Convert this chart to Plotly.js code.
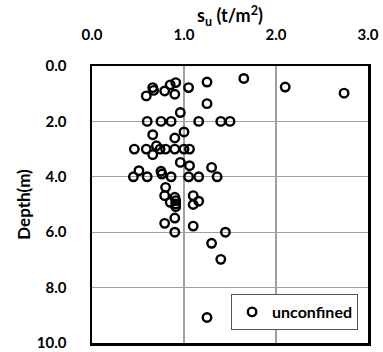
<!DOCTYPE html>
<html>
<head>
<meta charset="utf-8">
<script src="https://cdn.plot.ly/plotly-3.0.1.min.js"></script>
<style>html,body{margin:0;padding:0;background:#fff;}#chart{width:383px;height:352px;}</style>
</head>
<body>
<div id="chart"></div>
<script>
// Undrained shear strength s_u (t/m^2) vs depth (m), unconfined compression tests
const su = [0.66,0.67,0.59,0.79,0.85,0.91,0.90,1.05,1.25,1.65,2.10,2.74,1.25,0.96,
            0.60,0.75,0.86,1.16,1.40,1.50,0.66,1.00,0.90,0.46,0.59,0.70,0.66,0.74,
            0.80,0.90,1.00,1.06,0.96,1.06,1.30,1.36,1.16,1.05,0.86,0.75,0.76,0.60,
            0.51,0.45,0.80,0.79,0.90,0.91,1.10,1.16,0.85,0.91,0.91,1.10,0.90,0.79,
            1.10,0.90,1.45,1.30,1.40,1.25];
const depth = [0.78,0.88,1.08,0.90,0.68,0.60,1.02,0.78,0.58,0.45,0.76,0.98,1.36,1.68,
               2.0,2.0,2.0,2.0,2.0,2.0,2.48,2.38,2.60,3.0,3.0,2.88,3.2,3.0,
               3.0,3.0,3.0,3.0,3.48,3.6,3.66,4.0,4.0,4.0,4.0,3.8,3.9,4.0,
               3.78,4.0,4.38,4.68,4.74,4.86,4.68,4.88,4.92,4.98,5.08,5.0,5.49,5.68,
               5.78,6.0,6.0,6.4,6.98,9.08];
const seriesName = 'unconfined';
const xTicks = [0, 1, 2, 3];
const yTicks = [0, 2, 4, 6, 8, 10];

const FONT = 'Lato, "Open Sans", "Liberation Sans", sans-serif';

const trace = {
  x: su, y: depth, type: 'scatter', mode: 'markers', name: seriesName,
  marker: {symbol: 'circle-open', size: 8.5, color: '#000', line: {width: 2.4, color: '#000'}}
};

const layout = {
  width: 383, height: 352,
  margin: {l: 92, r: 15, t: 66, b: 9},
  paper_bgcolor: '#fff', plot_bgcolor: '#fff',
  font: {family: FONT, color: '#000'},
  showlegend: true,
  title: {
    text: '<b>s<sub>u</sub> (t/m<sup>2</sup>)</b>',
    font: {family: FONT, size: 18, weight: 'bold', color: '#000'},
    xref: 'paper', x: 0.5, xanchor: 'center',
    yref: 'container', y: 0.955, yanchor: 'middle'
  },
  xaxis: {
    side: 'top', range: [0, 3], tickvals: xTicks, tickformat: '.1f',
    showgrid: true, gridcolor: '#a0a0a0', gridwidth: 1.3,
    zeroline: false, showline: true, mirror: true, linecolor: '#000', linewidth: 2.5,
    ticks: '', ticklabelstandoff: 18,
    tickfont: {family: FONT, size: 15, weight: 'bold', color: '#000'}
  },
  yaxis: {
    range: [10, 0], tickvals: yTicks, tickformat: '.1f',
    showgrid: true, gridcolor: '#a0a0a0', gridwidth: 1.3,
    zeroline: false, showline: true, mirror: true, linecolor: '#000', linewidth: 2.5,
    ticks: '', ticklabelstandoff: 20,
    tickfont: {family: FONT, size: 15, weight: 'bold', color: '#000'},
    title: {text: '<b>Depth(m)</b>', standoff: 2, font: {family: FONT, size: 17, weight: 'bold', color: '#000'}}
  },
  legend: {
    x: 0.964, xanchor: 'right', y: 0.047, yanchor: 'bottom',
    bgcolor: '#fff', bordercolor: '#555', borderwidth: 1,
    font: {family: FONT, size: 16, weight: 'bold', color: '#000'}
  }
};

Plotly.newPlot('chart', [trace], layout, {displayModeBar: false, staticPlot: true});
</script>
</body>
</html>
